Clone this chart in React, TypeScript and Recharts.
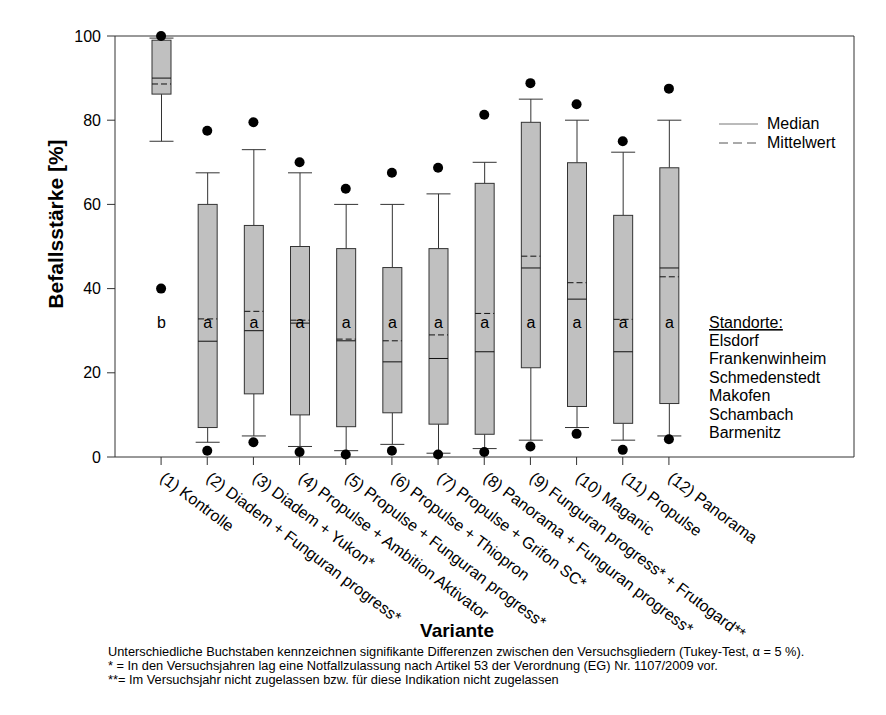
import { ComposedChart, Bar, Scatter, XAxis, YAxis } from "recharts"

const FONT = "'Liberation Sans', Arial, sans-serif"

// Variants (x categories)
const varianten = [
  "(1) Kontrolle",
  "(2) Diadem + Funguran progress*",
  "(3) Diadem + Yukon*",
  "(4) Propulse + Ambition Aktivator",
  "(5) Propulse + Funguran progress*",
  "(6) Propulse + Thiopron",
  "(7) Propulse + Grifon SC*",
  "(8) Panorama + Funguran progress*",
  "(9) Funguran progress* + Frutogard**",
  "(10) Maganic",
  "(11) Propulse",
  "(12) Panorama",
]

// box plot statistics, Befallsstärke [%]
const whiskerLow = [75, 3.5, 5, 2.5, 1.5, 3, 0.9, 2, 4, 7, 4, 5]
const q1 = [86.2, 7, 15, 10, 7.2, 10.5, 7.8, 5.4, 21.2, 12, 8, 12.7]
const median = [90, 27.5, 30, 31.8, 27.6, 22.6, 23.4, 25, 44.9, 37.5, 25, 44.9]
const mittelwert = [88.6, 32.8, 34.6, 32.5, 28, 27.6, 29, 34.1, 47.7, 41.4, 32.7, 42.8]
const q3 = [99, 60, 55, 50, 49.5, 45, 49.5, 65, 79.5, 69.9, 57.4, 68.7]
const whiskerHigh = [99.5, 67.5, 73, 67.5, 60, 60, 62.5, 70, 85, 80, 72.4, 80]
const outlierHigh = [100, 77.5, 79.5, 70, 63.7, 67.5, 68.7, 81.3, 88.8, 83.8, 75, 87.5]
const outlierLow = [40, 1.5, 3.5, 1.2, 0.6, 1.5, 0.6, 1.2, 2.5, 5.5, 1.7, 4.2]
const buchstaben = ["b", "a", "a", "a", "a", "a", "a", "a", "a", "a", "a", "a"]

const yTicks = [0, 20, 40, 60, 80, 100]
const standorte = ["Elsdorf", "Frankenwinheim", "Schmedenstedt", "Makofen", "Schambach", "Barmenitz"]
const fussnoten = [
  "Unterschiedliche Buchstaben kennzeichnen signifikante Differenzen zwischen den Versuchsgliedern (Tukey-Test, α = 5 %).",
  "* = In den Versuchsjahren lag eine Notfallzulassung nach Artikel 53 der Verordnung (EG) Nr. 1107/2009 vor.",
  "**= Im Versuchsjahr nicht zugelassen bzw. für diese Indikation nicht zugelassen",
]

const data = varianten.map((label, i) => ({
  label,
  box: [q1[i], q3[i]],
  q1: q1[i],
  q3: q3[i],
  median: median[i],
  mean: mittelwert[i],
  lo: whiskerLow[i],
  hi: whiskerHigh[i],
  outHigh: outlierHigh[i],
  outLow: outlierLow[i],
  letter: buchstaben[i],
}))

const LETTER_AT = 32
const LINE = "#333"

function BoxShape(props: any) {
  const { x, y, width, height, payload } = props
  if (height == null || !payload) return null
  const ppu = height / (payload.q3 - payload.q1)
  const py = (v: number) => y + (payload.q3 - v) * ppu
  const cx = x + width / 2
  const cap = 12
  return (
    <g>
      <line x1={cx} x2={cx} y1={py(payload.hi)} y2={y} stroke={LINE} />
      <line x1={cx - cap} x2={cx + cap} y1={py(payload.hi)} y2={py(payload.hi)} stroke={LINE} />
      <line x1={cx} x2={cx} y1={y + height} y2={py(payload.lo)} stroke={LINE} />
      <line x1={cx - cap} x2={cx + cap} y1={py(payload.lo)} y2={py(payload.lo)} stroke={LINE} />
      <rect x={x} y={y} width={width} height={height} fill="#c0c0c0" stroke={LINE} />
      <line x1={x} x2={x + width} y1={py(payload.median)} y2={py(payload.median)} stroke="#111" />
      <line x1={x} x2={x + width} y1={py(payload.mean)} y2={py(payload.mean)} stroke="#111" strokeDasharray="6 3" />
      <text x={cx} y={py(LETTER_AT) + 6} textAnchor="middle" fontSize={16} fontFamily={FONT} fill="#000">
        {payload.letter}
      </text>
    </g>
  )
}

function Dot(props: any) {
  return <circle cx={props.cx} cy={props.cy} r={5} fill="#000" />
}

function XTick(props: any) {
  const { x, y, payload } = props
  const ax = x - 2
  const ay = y + 13
  return (
    <text x={ax} y={ay} transform={`rotate(37 ${ax} ${ay})`} textAnchor="start" fontSize={16} fontFamily={FONT} fill="#000">
      {payload.value}
    </text>
  )
}

export default function App() {
  return (
    <div style={{ position: "absolute", left: 0, top: 0, width: 886, height: 715, background: "#fff" }}>
      <ComposedChart width={886} height={715} data={data} margin={{ top: 35, right: 31, left: 0, bottom: 0 }}>
        <XAxis
          dataKey="label"
          height={258}
          interval={0}
          padding={{ left: 23, right: 162 }}
          tickSize={8}
          tickLine={{ stroke: LINE }}
          axisLine={{ stroke: LINE }}
          tick={<XTick />}
        />
        <XAxis
          xAxisId="top"
          dataKey="label"
          orientation="top"
          height={1}
          tick={false}
          tickLine={false}
          axisLine={{ stroke: LINE }}
        />
        <YAxis
          domain={[0, 100]}
          ticks={yTicks}
          width={115}
          tickSize={8}
          tickMargin={6}
          tickLine={{ stroke: LINE }}
          axisLine={{ stroke: LINE }}
          tick={{ fontSize: 16, fontFamily: FONT, fill: "#000" }}
        />
        <YAxis
          yAxisId="right"
          orientation="right"
          width={1}
          domain={[0, 100]}
          tick={false}
          tickLine={false}
          axisLine={{ stroke: LINE }}
        />
        <Bar dataKey="box" barSize={19} shape={<BoxShape />} isAnimationActive={false} />
        <Scatter dataKey="outHigh" shape={<Dot />} isAnimationActive={false} />
        <Scatter dataKey="outLow" shape={<Dot />} isAnimationActive={false} />
      </ComposedChart>
      <svg width={886} height={715} style={{ position: "absolute", left: 0, top: 0, pointerEvents: "none" }} fontFamily={FONT}>
        <text transform="translate(63 224) rotate(-90)" textAnchor="middle" fontSize={21} fontWeight="bold">
          Befallsstärke [%]
        </text>
        <line x1={719} x2={758} y1={124} y2={124} stroke="#777" />
        <text x={767} y={129} fontSize={16}>Median</text>
        <line x1={719} x2={758} y1={143} y2={143} stroke="#555" strokeDasharray="9 5" />
        <text x={767} y={148} fontSize={16}>Mittelwert</text>
        <text x={709} y={328} fontSize={16} textDecoration="underline">Standorte:</text>
        {standorte.map((s, i) => (
          <text key={s} x={709} y={346 + i * 18.4} fontSize={16}>
            {s}
          </text>
        ))}
        <text x={457} y={637} textAnchor="middle" fontSize={19} fontWeight="bold">
          Variante
        </text>
        {fussnoten.map((t, i) => (
          <text key={i} x={108} y={656} dy={i * 14} fontSize={12.8}>
            {t}
          </text>
        ))}
      </svg>
    </div>
  )
}
